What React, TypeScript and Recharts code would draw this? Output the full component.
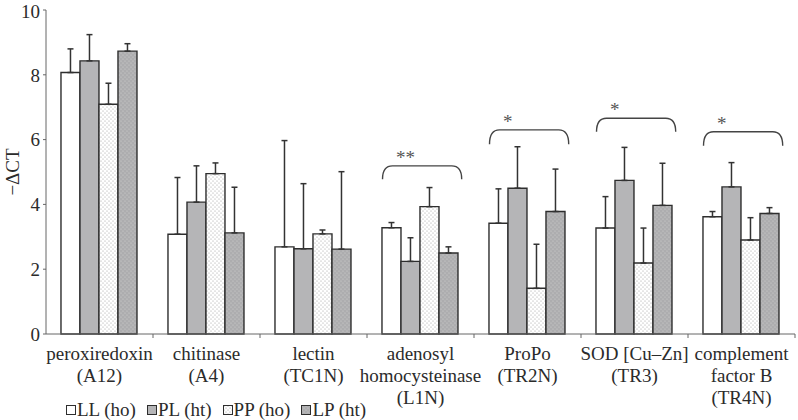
import { BarChart, Bar, XAxis, YAxis, ErrorBar, Legend, ReferenceArea } from 'recharts';

const CATEGORIES = [
  'peroxiredoxin\n(A12)',
  'chitinase\n(A4)',
  'lectin\n(TC1N)',
  'adenosyl\nhomocysteinase\n(L1N)',
  'ProPo\n(TR2N)',
  'SOD [Cu–Zn]\n(TR3)',
  'complement\nfactor B\n(TR4N)',
];

const LL = [8.07, 3.08, 2.69, 3.28, 3.42, 3.27, 3.62];
const PL = [8.43, 4.07, 2.63, 2.24, 4.5, 4.74, 4.54];
const PP = [7.09, 4.95, 3.09, 3.93, 1.41, 2.19, 2.9];
const LP = [8.73, 3.12, 2.62, 2.5, 3.78, 3.97, 3.72];

// upper error only
const LL_ERR = [0.73, 1.75, 3.28, 0.16, 1.06, 0.97, 0.16];
const PL_ERR = [0.81, 1.12, 2.01, 0.73, 1.28, 1.02, 0.75];
const PP_ERR = [0.65, 0.33, 0.12, 0.59, 1.36, 1.08, 0.69];
const LP_ERR = [0.23, 1.41, 2.39, 0.19, 1.31, 1.3, 0.18];

const Y_TICKS = [0, 2, 4, 6, 8, 10];

// significance brackets
const SIG_CATS = [3, 4, 5, 6];
const SIG_TOP = [5.19, 6.3, 6.66, 6.24];
const SIG_END = [4.78, 5.86, 6.24, 5.81];
const SIG_LABEL = ['**', '*', '*', '*'];

const SERIES = [
  { key: 'LL', name: 'LL (ho)', fill: '#ffffff' },
  { key: 'PL', name: 'PL (ht)', fill: '#b5b5b7' },
  { key: 'PP', name: 'PP (ho)', fill: 'url(#ppDots)' },
  { key: 'LP', name: 'LP (ht)', fill: 'url(#lpDots)' },
];

const W = 798;
const H = 420;
const MARGIN = { top: 10, right: 3, bottom: 0, left: 0 };
const Y_AXIS_W = 46;
const BAND = (W - Y_AXIS_W - MARGIN.left - MARGIN.right) / CATEGORIES.length;
const FONT = 'Liberation Serif, Times New Roman, serif';
const FS = 19;
const TEXT = '#2b2b2b';
const AXIS = '#666';
const EDGE = '#2e2e2e';

const data = CATEGORIES.map((c, i) => ({
  cat: c,
  LL: LL[i],
  PL: PL[i],
  PP: PP[i],
  LP: LP[i],
  eLL: [0, LL_ERR[i]],
  ePL: [0, PL_ERR[i]],
  ePP: [0, PP_ERR[i]],
  eLP: [0, LP_ERR[i]],
}));

function CategoryTick(props: any) {
  const { x, y, payload } = props;
  const lines = String(payload.value).split('\n');
  const bx = x + BAND / 2;
  return (
    <g>
      <line x1={bx} x2={bx} y1={y - 4} y2={y} stroke={AXIS} strokeWidth={1} />
      <text x={x} y={y} textAnchor="middle" style={{ fontFamily: FONT }} fontSize={FS} fill={TEXT}>
        {lines.map((l, i) => (
          <tspan key={i} x={x} dy={22}>
            {l}
          </tspan>
        ))}
      </text>
    </g>
  );
}

function makeBracket(label: string) {
  return (props: any) => {
    const { x, y, width, height } = props;
    const x1 = x + width * 0.145;
    const x2 = x + width * 0.885;
    const bot = y + height;
    const r = 10;
    const d = `M${x1},${bot} Q${x1},${y} ${x1 + r},${y} L${x2 - r},${y} Q${x2},${y} ${x2},${bot}`;
    return (
      <g>
        <path d={d} fill="none" stroke="#444" strokeWidth={1.4} />
        <text x={x + width * 0.27} y={y - 2} style={{ fontFamily: FONT }} fontSize={FS} fill="#555">
          {label}
        </text>
      </g>
    );
  };
}

function LegendContent() {
  return (
    <div style={{ display: 'flex', fontFamily: FONT, fontSize: FS, color: TEXT, lineHeight: '20px' }}>
      {SERIES.map((s) => (
        <div key={s.key} style={{ display: 'flex', alignItems: 'center', marginRight: 11 }}>
          <svg width={10} height={10} style={{ marginRight: 1 }}>
            <rect x={0.5} y={0.5} width={9} height={9} fill={s.fill} stroke={EDGE} strokeWidth={1} />
          </svg>
          <span>{s.name}</span>
        </div>
      ))}
    </div>
  );
}

function YLabel(props: any) {
  const { x, y, height } = props.viewBox;
  const cx = x + 12;
  const cy = y + height / 2;
  return (
    <text
      x={cx}
      y={cy}
      transform={`rotate(-90, ${cx}, ${cy})`}
      textAnchor="middle"
      dominantBaseline="central"
      style={{ fontFamily: FONT }}
      fontSize={FS}
      fill={TEXT}
    >
      −ΔCT
    </text>
  );
}

export default function App() {
  return (
    <div style={{ position: 'absolute', left: 0, top: 0, width: W, height: H, background: '#fff', fontFamily: FONT }}>
      <BarChart width={W} height={H} data={data} margin={MARGIN} barGap={0} barCategoryGap="14%" style={{ fontFamily: FONT }}>
        <defs>
          <pattern id="ppDots" width={4} height={4} patternUnits="userSpaceOnUse">
            <rect width={4} height={4} fill="#ffffff" />
            <circle cx={1} cy={1} r={0.55} fill="#9a9a9a" />
            <circle cx={3} cy={3} r={0.55} fill="#9a9a9a" />
          </pattern>
          <pattern id="lpDots" width={4} height={4} patternUnits="userSpaceOnUse">
            <rect width={4} height={4} fill="#adadaf" />
            <circle cx={1} cy={1} r={0.6} fill="#d2d2d2" />
            <circle cx={3} cy={3} r={0.6} fill="#d2d2d2" />
          </pattern>
        </defs>
        <XAxis
          dataKey="cat"
          interval={0}
          height={66}
          tickLine={false}
          tickSize={4}
          tickMargin={0}
          axisLine={{ stroke: AXIS }}
          tick={<CategoryTick />}
        />
        <YAxis
          width={Y_AXIS_W}
          domain={[0, 10]}
          ticks={Y_TICKS}
          tickSize={3}
          tickMargin={3}
          axisLine={{ stroke: AXIS }}
          tickLine={{ stroke: AXIS }}
          tick={{ fontSize: FS, fill: TEXT, style: { fontFamily: FONT } }}
          label={<YLabel />}
        />
        <Legend verticalAlign="bottom" align="left" content={<LegendContent />} wrapperStyle={{ left: 66, bottom: 0, height: 20 }} />
        {SERIES.map((s) => (
          <Bar key={s.key} dataKey={s.key} name={s.name} fill={s.fill} stroke={EDGE} strokeWidth={1.4} isAnimationActive={false}>
            <ErrorBar dataKey={`e${s.key}`} direction="y" width={3} stroke="#333" strokeWidth={1.5} />
          </Bar>
        ))}
        {SIG_CATS.map((ci, i) => (
          <ReferenceArea
            key={ci}
            x1={CATEGORIES[ci]}
            x2={CATEGORIES[ci]}
            y1={SIG_END[i]}
            y2={SIG_TOP[i]}
            ifOverflow="visible"
            shape={makeBracket(SIG_LABEL[i])}
          />
        ))}
      </BarChart>
    </div>
  );
}
